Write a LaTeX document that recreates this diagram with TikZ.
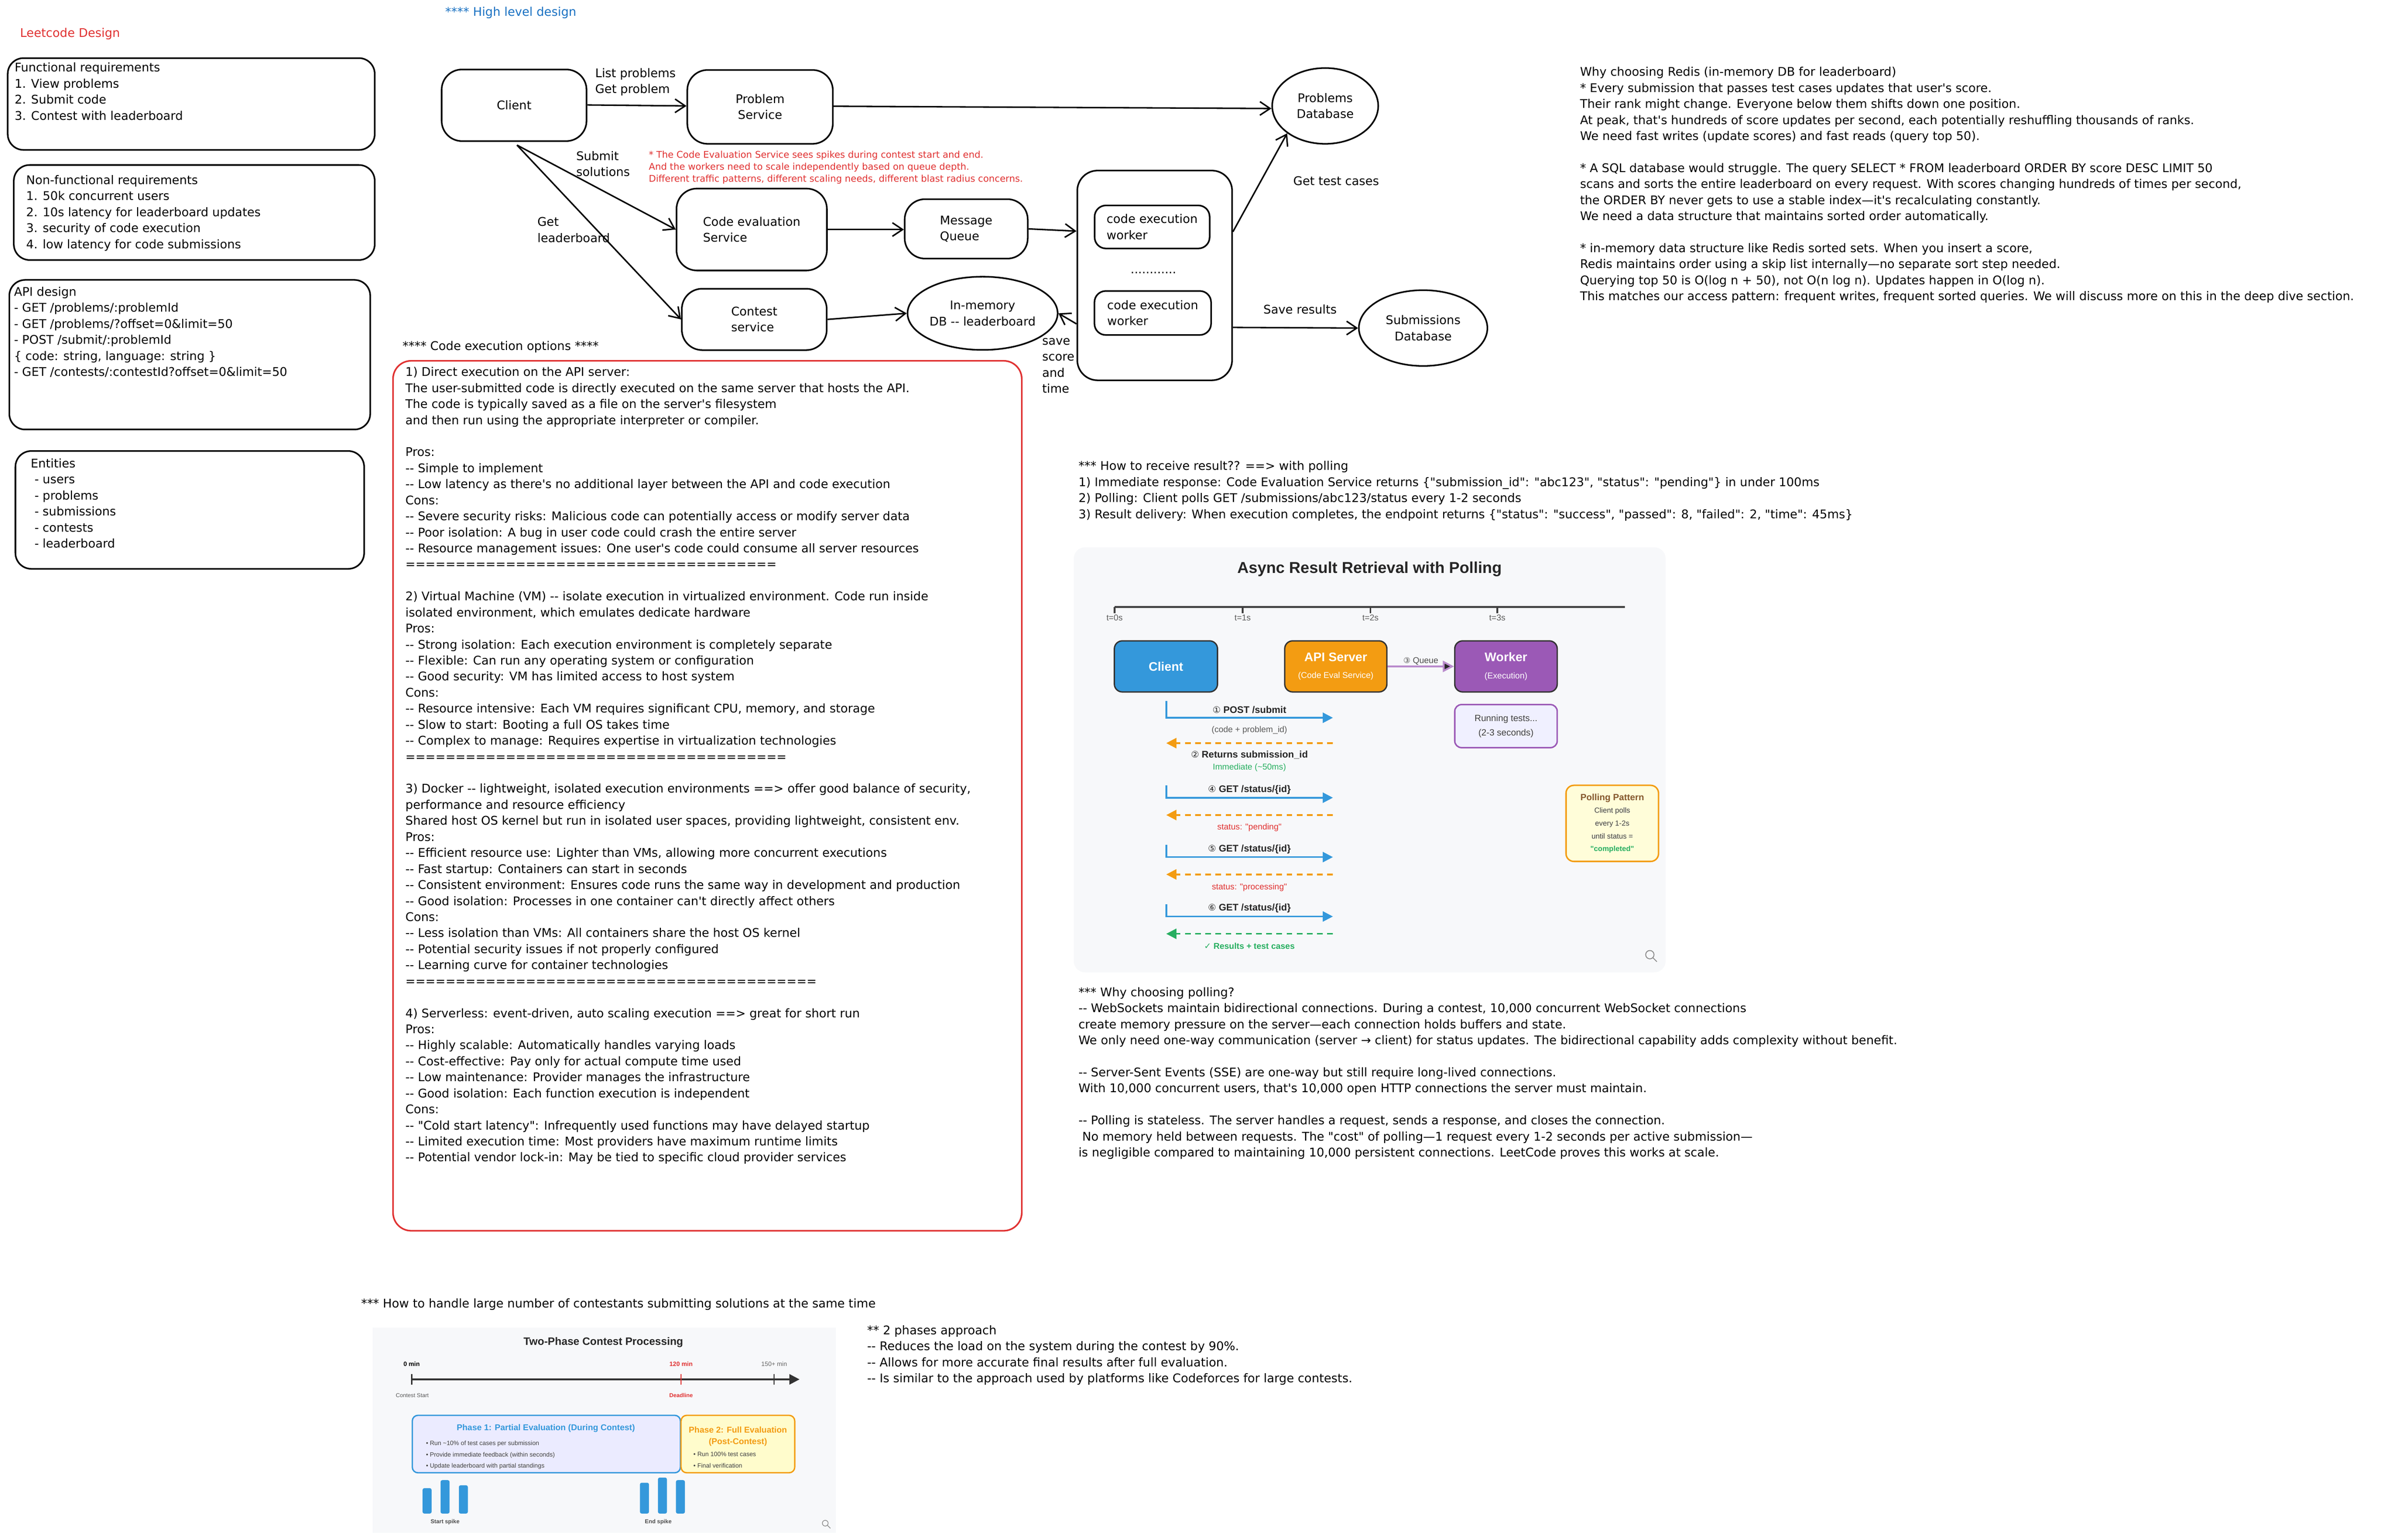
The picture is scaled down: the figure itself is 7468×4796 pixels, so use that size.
\documentclass[tikz,border=0pt]{standalone}
\usepackage{fontspec}
\setmainfont{DejaVu Sans}[Ligatures=TeXOff]
\newfontfamily\chart{Liberation Sans}
\newfontfamily\dv{DejaVu Sans}
\usetikzlibrary{arrows.meta,shapes.geometric}
\definecolor{cblue}{HTML}{3498DB}
\definecolor{corange}{HTML}{F39C12}
\definecolor{cpurple}{HTML}{9B59B6}
\definecolor{cgreen}{HTML}{27AE60}
\definecolor{cred}{HTML}{E03131}
\definecolor{hblue}{HTML}{1971C2}
\definecolor{panel}{HTML}{F7F8FA}
\newcommand\hand{\fontsize{10.6}{14.2}\selectfont}
\begin{document}
\begin{tikzpicture}[x=0.01cm,y=-0.01cm,
  sk/.style={draw=black,line width=1.4pt,rounded corners=18pt,font=\hand,align=left,inner sep=0},
  ell/.style={draw=black,line width=1.4pt,ellipse,font=\hand,align=left,inner sep=0},
  arr/.style={line width=1.3pt,-{Straight Barb[length=9pt,width=12pt]}},
  txt/.style={anchor=north west,align=left,inner sep=0,font=\hand},
  lbl/.style={anchor=west,align=left,inner sep=0,font=\hand},
  cbox/.style={draw=black!80,line width=1.2pt,rounded corners=7pt,text=white,align=center,font=\chart},
  blarr/.style={draw=cblue,line width=1.5pt,-{Triangle[length=9pt,width=9pt]}},
  dsh/.style={line width=1.5pt,dash pattern=on 5pt off 4pt,-{Triangle[length=9pt,width=9pt]}},
  clab/.style={font=\chart\fontsize{8.5}{10}\selectfont\bfseries,text=black!85,inner sep=0},
  csub/.style={font=\chart\fontsize{7.5}{9}\selectfont,inner sep=0},
  bar/.style={fill=cblue,rounded corners=1.5pt}]
\useasboundingbox[fill=white] (0,0) rectangle (7468,4796);

% titles
\node[lbl,text=cred] (t1) at (62,105) {Leetcode Design};
\node[lbl,text=hblue] (t2) at (1386,40) {**** High level design};

% left boxes
\draw[sk,rounded corners=14pt] (24,181) rectangle (1167,467);
\node[txt] (fr) at (45,195) {Functional requirements\\1. View problems\\2. Submit code\\3. Contest with leaderboard};
\draw[sk,rounded corners=14pt] (43,514) rectangle (1167,810);
\node[txt] (nfr) at (81,545) {Non-functional requirements\\1. 50k concurrent users\\2. 10s latency for leaderboard updates\\3. security of code execution\\4. low latency for code submissions};
\draw[sk,rounded corners=14pt] (29,872) rectangle (1153,1338);
\node[txt] (api) at (43,893) {API design\\- GET /problems/:problemId\\- GET /problems/?offset=0\&limit=50\\- POST /submit/:problemId\\\{ code: string, language: string \}\\- GET /contests/:contestId?offset=0\&limit=50};
\draw[sk,rounded corners=14pt] (48,1405) rectangle (1134,1772);
\node[txt] (ent) at (95,1428) {Entities\\\ - users\\\ - problems\\\ - submissions\\\ - contests\\\ - leaderboard};

% high level design
\node[sk,minimum width=4.51cm,minimum height=2.23cm,align=center] (client) at (1601,328) {Client};
\node[sk,minimum width=4.53cm,minimum height=2.3cm,align=center] (ps) at (2367,333) {Problem\\Service};
\node[ell,minimum width=3.3cm,minimum height=2.36cm,align=center] (pdb) at (4127,330) {Problems\\Database};
\node[sk,minimum width=4.68cm,minimum height=2.55cm] (ces) at (2341,715) {Code evaluation\\Service};
\node[sk,minimum width=3.83cm,minimum height=1.85cm] (mq) at (3009,713) {Message\\Queue};
\node[sk,minimum width=4.82cm,minimum height=6.53cm] (wc) at (3596,858) {};
\node[sk,rounded corners=10pt,minimum width=3.58cm,minimum height=1.34cm] (w1) at (3588,707) {code execution\\worker};
\node[inner sep=0,font=\hand] (dots) at (3592,850) {............};
\node[sk,rounded corners=10pt,minimum width=3.63cm,minimum height=1.37cm] (w2) at (3590,975) {code execution\\worker};
\node[sk,minimum width=4.51cm,minimum height=1.91cm] (cs) at (2349,995) {Contest\\service};
\node[ell,minimum width=4.05cm,minimum height=2.28cm,align=center] (imdb) at (3060,976) {In-memory\\DB -- leaderboard};
\node[ell,minimum width=4.0cm,minimum height=2.36cm,align=center] (sdb) at (4432,1022) {Submissions\\Database};

\draw[arr] (client.east |- 0,327) -- (ps.west |- 0,330);
\draw[arr] (ps.east |- 0,331) -- (pdb.west |- 0,338);
\coordinate (cc) at (1610,452);
\draw[arr] (cc) -- (ces.west);
\draw[arr] (cc) -- (cs.west);
\draw[arr] (ces.east) -- (mq.west |- ces.east);
\draw[arr] (mq.east) -- (wc.west |- 0,720);
\draw[arr] (cs.east) -- (imdb.west);
\draw[arr] (wc.west |- 0,1009) -- (imdb.east);
\draw[arr] (wc.east |- 0,722) -- (pdb.south west);
\draw[arr] (wc.east |- 0,1020) -- (sdb.west);

\node[lbl] (l1) at (1853,231) {List problems};
\node[lbl] (l2) at (1853,280) {Get problem};
\node[txt] (l3) at (1794,470) {Submit\\solutions};
\node[txt] (l4) at (1673,676) {Get\\leaderboard};
\node[lbl] (l5) at (4027,564) {Get test cases};
\node[lbl] (l6) at (3934,964) {Save results};
\node[txt] (l7) at (3245,1053) {save\\score\\and\\time};
\node[txt,font=\fontsize{8.2}{10.5}\selectfont,text=cred] (note) at (2020,470) {* The Code Evaluation Service sees spikes during contest start and end.\\And the workers need to scale independently based on queue depth.\\Different traffic patterns, different scaling needs, different blast radius concerns.};

% code execution options
\node[lbl] (ceo) at (1253,1081) {**** Code execution options ****};
\draw[draw=cred,line width=1.4pt,rounded corners=16pt] (1224,1124) rectangle (3182,3834);
\node[txt] (opts) at (1262,1143) {1) Direct execution on the API server:\\
The user-submitted code is directly executed on the same server that hosts the API.\\
The code is typically saved as a file on the server's filesystem\\
and then run using the appropriate interpreter or compiler.\\ \strut\\
Pros:\\
-- Simple to implement\\
-- Low latency as there's no additional layer between the API and code execution\\
Cons:\\
-- Severe security risks: Malicious code can potentially access or modify server data\\
-- Poor isolation: A bug in user code could crash the entire server\\
-- Resource management issues: One user's code could consume all server resources\\
=====================================\\ \strut\\
2) Virtual Machine (VM) -- isolate execution in virtualized environment. Code run inside\\
isolated environment, which emulates dedicate hardware\\
Pros:\\
-- Strong isolation: Each execution environment is completely separate\\
-- Flexible: Can run any operating system or configuration\\
-- Good security: VM has limited access to host system\\
Cons:\\
-- Resource intensive: Each VM requires significant CPU, memory, and storage\\
-- Slow to start: Booting a full OS takes time\\
-- Complex to manage: Requires expertise in virtualization technologies\\
======================================\\ \strut\\
3) Docker -- lightweight, isolated execution environments ==> offer good balance of security,\\
performance and resource efficiency\\
Shared host OS kernel but run in isolated user spaces, providing lightweight, consistent env.\\
Pros:\\
-- Efficient resource use: Lighter than VMs, allowing more concurrent executions\\
-- Fast startup: Containers can start in seconds\\
-- Consistent environment: Ensures code runs the same way in development and production\\
-- Good isolation: Processes in one container can't directly affect others\\
Cons:\\
-- Less isolation than VMs: All containers share the host OS kernel\\
-- Potential security issues if not properly configured\\
-- Learning curve for container technologies\\
=========================================\\ \strut\\
4) Serverless: event-driven, auto scaling execution ==> great for short run\\
Pros:\\
-- Highly scalable: Automatically handles varying loads\\
-- Cost-effective: Pay only for actual compute time used\\
-- Low maintenance: Provider manages the infrastructure\\
-- Good isolation: Each function execution is independent\\
Cons:\\
-- "Cold start latency": Infrequently used functions may have delayed startup\\
-- Limited execution time: Most providers have maximum runtime limits\\
-- Potential vendor lock-in: May be tied to specific cloud provider services};

% redis
\node[txt] (redis) at (4920,208) {Why choosing Redis (in-memory DB for leaderboard)\\
* Every submission that passes test cases updates that user's score.\\
Their rank might change. Everyone below them shifts down one position.\\
At peak, that's hundreds of score updates per second, each potentially reshuffling thousands of ranks.\\
We need fast writes (update scores) and fast reads (query top 50).\\ \strut\\
* A SQL database would struggle. The query SELECT * FROM leaderboard ORDER BY score DESC LIMIT 50\\
scans and sorts the entire leaderboard on every request. With scores changing hundreds of times per second,\\
the ORDER BY never gets to use a stable index—it's recalculating constantly.\\
We need a data structure that maintains sorted order automatically.\\ \strut\\
* in-memory data structure like Redis sorted sets. When you insert a score,\\
Redis maintains order using a skip list internally—no separate sort step needed.\\
Querying top 50 is O(log n + 50), not O(n log n). Updates happen in O(log n).\\
This matches our access pattern: frequent writes, frequent sorted queries. We will discuss more on this in the deep dive section.};

% how to receive
\node[txt] (recv) at (3358,1436) {*** How to receive result?? ==> with polling\\
1) Immediate response: Code Evaluation Service returns \{"submission\_id": "abc123", "status": "pending"\} in under 100ms\\
2) Polling: Client polls GET /submissions/abc123/status every 1-2 seconds\\
3) Result delivery: When execution completes, the endpoint returns \{"status": "success", "passed": 8, "failed": 2, "time": 45ms\}};

% polling chart
\fill[panel,rounded corners=10pt] (3344,1705) rectangle (5187,3029);
\node[font=\chart\fontsize{14}{16}\selectfont\bfseries,text=black!85] (ptitle) at (4265,1773) {Async Result Retrieval with Polling};
\draw[line width=1.6pt,black!75] (3471,1891) -- (5060,1891);
\foreach \x/\t in {3471/0,3870/1,4268/2,4663/3}{\draw[line width=1.4pt,black!75] (\x,1891) -- (\x,1910);
  \node[csub,text=black!65] at (\x,1925) {t=\t{}s};}
\node[cbox,fill=cblue,minimum width=3.21cm,minimum height=1.59cm,font=\chart\fontsize{11}{13}\selectfont\bfseries] (pc) at (3631,2076) {Client};
\node[cbox,fill=corange,minimum width=3.18cm,minimum height=1.59cm] (pa) at (4160,2076) {{\fontsize{11}{13}\selectfont\bfseries API Server}\\[3pt]{\fontsize{7.5}{9}\selectfont (Code Eval Service)}};
\node[cbox,fill=cpurple,minimum width=3.19cm,minimum height=1.59cm] (pw) at (4690,2076) {{\fontsize{11}{13}\selectfont\bfseries Worker}\\[3pt]{\fontsize{7.5}{9}\selectfont (Execution)}};
\draw[draw=cpurple!70,line width=1.6pt,-{Triangle[length=10pt,width=10pt,fill=black!85]}] (pa.east) -- (pw.west) coordinate[pos=0.5] (qm);
\node[csub,text=black!70,anchor=south] (ql) at ([yshift=1pt]qm) {{\dv\fontsize{7}{8}\selectfont ③} Queue};
\node[draw=cpurple,fill=blue!6,line width=1.3pt,rounded corners=6pt,minimum width=3.19cm,minimum height=1.34cm,align=center,font=\chart\fontsize{8}{13}\selectfont,text=black!75] (rt) at (4690,2262) {Running tests...\\(2-3 seconds)};
\foreach \n/\top/\y in {a/2184/2236, b/2447/2485, c/2632/2670, d/2817/2855}{
  \coordinate (s\n) at (3632,\top); \coordinate (m\n) at (3632,\y); \coordinate (e\n) at (4151,\y);
  \draw[blarr] (s\n) -- (m\n) -- (e\n);}
\node[clab] (la) at (3891,2211) {{\dv\fontsize{8}{9}\selectfont\mdseries ①} POST /submit};
\node[clab] (lb) at (3891,2460) {{\dv\fontsize{8}{9}\selectfont\mdseries ④} GET /status/\{id\}};
\node[clab] (lc2) at (3891,2645) {{\dv\fontsize{8}{9}\selectfont\mdseries ⑤} GET /status/\{id\}};
\node[clab] (ld) at (3891,2830) {{\dv\fontsize{8}{9}\selectfont\mdseries ⑥} GET /status/\{id\}};
\node[csub,text=black!65] (sub1) at (3891,2275) {(code + problem\_id)};
\coordinate (r1a) at (4151,2315); \coordinate (r1b) at (3632,2315);
\draw[dsh,draw=corange] (r1a) -- (r1b);
\node[clab] (r1l) at (3891,2352) {{\dv\fontsize{8}{9}\selectfont\mdseries ②} Returns submission\_id};
\node[csub,text=cgreen] (r1s) at (3891,2391) {Immediate (\textasciitilde50ms)};
\coordinate (r2a) at (4151,2539); \coordinate (r2b) at (3632,2539);
\draw[dsh,draw=corange] (r2a) -- (r2b);
\node[csub,text=cred] (r2l) at (3891,2578) {status: "pending"};
\coordinate (r3a) at (4151,2724); \coordinate (r3b) at (3632,2724);
\draw[dsh,draw=corange] (r3a) -- (r3b);
\node[csub,text=cred] (r3l) at (3891,2764) {status: "processing"};
\coordinate (r4a) at (4151,2909); \coordinate (r4b) at (3632,2909);
\draw[dsh,draw=cgreen] (r4a) -- (r4b);
\node[csub,text=cgreen,font=\chart\fontsize{7.5}{9}\selectfont\bfseries] (r4l) at (3891,2947) {{\dv ✓} Results + test cases};
\node[draw=corange,fill=yellow!15,line width=1.3pt,rounded corners=7pt,minimum width=2.88cm,minimum height=2.37cm,align=center,font=\chart\fontsize{6.5}{11.3}\selectfont,text=black!75] (pp) at (5021,2565) {{\fontsize{8}{10}\selectfont\bfseries\color{brown!70!black}Polling Pattern}\\Client polls\\every 1-2s\\until status =\\{\bfseries\color{cgreen}"completed"}};
\draw[black!45,line width=0.8pt] (5138,2974) circle (13) (5147,2983) -- (5160,2996);

% why polling
\node[txt] (why) at (3358,3075) {*** Why choosing polling?\\
-- WebSockets maintain bidirectional connections. During a contest, 10,000 concurrent WebSocket connections\\
create memory pressure on the server—each connection holds buffers and state.\\
We only need one-way communication (server → client) for status updates. The bidirectional capability adds complexity without benefit.\\ \strut\\
-- Server-Sent Events (SSE) are one-way but still require long-lived connections.\\
With 10,000 concurrent users, that's 10,000 open HTTP connections the server must maintain.\\ \strut\\
-- Polling is stateless. The server handles a request, sends a response, and closes the connection.\\
\ No memory held between requests. The "cost" of polling—1 request every 1-2 seconds per active submission—\\
is negligible compared to maintaining 10,000 persistent connections. LeetCode proves this works at scale.};

% large contests
\node[lbl] (lc) at (1124,4063) {*** How to handle large number of contestants submitting solutions at the same time};
\fill[panel] (1160,4136) rectangle (2604,4775);
\node[font=\chart\fontsize{9.5}{11}\selectfont\bfseries,text=black!85] (ttitle) at (1879,4182) {Two-Phase Contest Processing};
\coordinate (tl0) at (1282,4297); \coordinate (tl1) at (2490,4297);
\draw[line width=1.6pt,black!80,-{Triangle[length=9pt,width=9pt]}] (tl0) -- (tl1);
\draw[line width=1pt,black!80] (1282,4280) -- (1282,4314);
\draw[line width=1pt,cred] (2121,4280) -- (2121,4314);
\draw[line width=1pt,black!80] (2411,4280) -- (2411,4314);
\node[csub,font=\chart\fontsize{5.5}{7}\selectfont\bfseries] (m0) at (1282,4249) {0 min};
\node[csub,font=\chart\fontsize{5.5}{7}\selectfont\bfseries,text=cred] (m120) at (2121,4249) {120 min};
\node[csub,font=\chart\fontsize{5.5}{7}\selectfont,text=black!60] (m150) at (2411,4249) {150+ min};
\node[csub,font=\chart\fontsize{5}{7}\selectfont,text=black!65] (cst) at (1284,4347) {Contest Start};
\node[csub,font=\chart\fontsize{5}{7}\selectfont\bfseries,text=cred] (dl) at (2121,4347) {Deadline};
\draw[draw=cblue,fill=blue!8,line width=1.2pt,rounded corners=5pt] (1284,4409) rectangle (2119,4588);
\draw[draw=corange,fill=yellow!20,line width=1.2pt,rounded corners=5pt] (2121,4409) rectangle (2475,4588);
\node[font=\chart\fontsize{7.5}{9}\selectfont\bfseries,text=cblue] (p1) at (1700,4449) {Phase 1: Partial Evaluation (During Contest)};
\node[font=\chart\fontsize{7.5}{10.3}\selectfont\bfseries,text=corange,align=center,anchor=north] (p2) at (2298,4432) {Phase 2: Full Evaluation\\(Post-Contest)};
\node[anchor=north west,align=left,font=\chart\fontsize{5.5}{10}\selectfont,text=black!75,inner sep=0] (b1) at (1326,4488) {• Run \textasciitilde10\% of test cases per submission\\• Provide immediate feedback (within seconds)\\• Update leaderboard with partial standings};
\node[anchor=north west,align=left,font=\chart\fontsize{5.5}{10}\selectfont,text=black!75,inner sep=0] (b2) at (2159,4523) {• Run 100\% test cases\\• Final verification};
\foreach \x/\t in {1330/4636,1386/4611,1443/4627,2007/4619,2063/4603,2119/4611}{\fill[bar] (\x-14,\t) rectangle (\x+14,4715);}
\node[csub,font=\chart\fontsize{5}{7}\selectfont\bfseries,text=black!70] (ss) at (1386,4742) {Start spike};
\node[csub,font=\chart\fontsize{5}{7}\selectfont\bfseries,text=black!70] (es) at (2050,4742) {End spike};
\draw[black!45,line width=0.6pt] (2570,4745) circle (9) (2577,4752) -- (2586,4761);

\node[txt] (ph) at (2700,4128) {** 2 phases approach\\
-- Reduces the load on the system during the contest by 90\%.\\
-- Allows for more accurate final results after full evaluation.\\
-- Is similar to the approach used by platforms like Codeforces for large contests.};
\end{tikzpicture}
\end{document}
